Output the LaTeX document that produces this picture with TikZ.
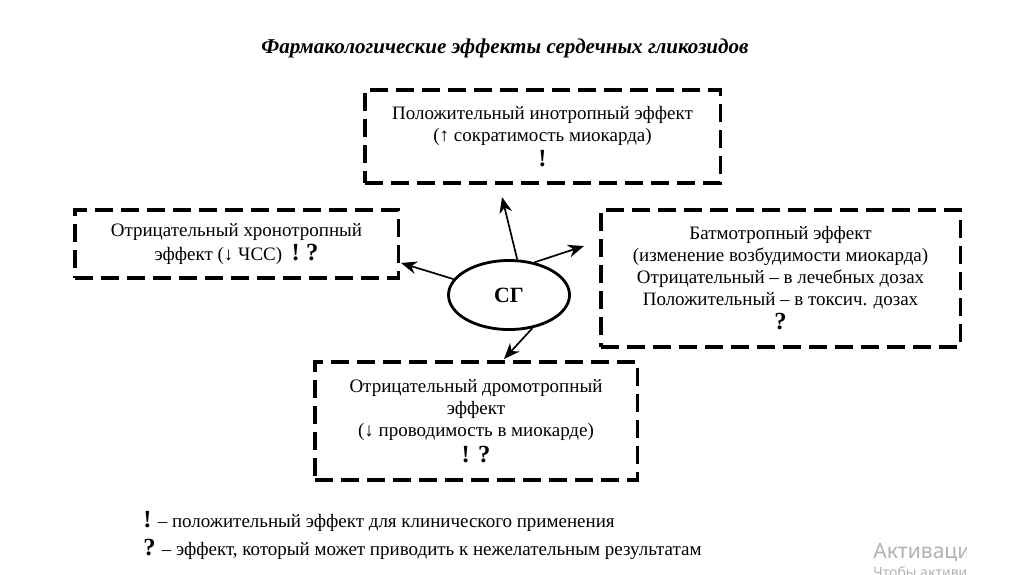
\documentclass[tikz,border=0pt]{standalone}
\usepackage{fontspec}
\setmainfont{Liberation Serif}
\newfontfamily\wmfont{Noto Sans}
\usetikzlibrary{arrows.meta,shapes.geometric}
\newcommand{\zn}[1]{{\fontsize{17.5}{17.5}\selectfont\bfseries #1}}
\tikzset{
  effbox/.style={draw,line width=2.2pt,dash pattern=on 12.5pt off 6pt,align=center,inner sep=0pt,font=\fontsize{13.5}{15.5}\selectfont},
  sgarrow/.style={line width=1.2pt,-{Stealth[length=4mm,width=3.2mm]}},
  legend/.style={anchor=west,inner sep=0pt,font=\fontsize{13.5}{15.5}\selectfont},
}
\begin{document}
\begin{tikzpicture}[x=0.025cm,y=-0.025cm]
\useasboundingbox (0,0) rectangle (1024,574);
\fill[white] (0,0) rectangle (1024,574);
% title
\node[font=\bfseries\itshape\fontsize{15}{17}\selectfont] (ttl) at (505,48) {Фармакологические эффекты сердечных гликозидов};
% the four effects
\node[effbox,minimum width=8.875cm,minimum height=2.325cm] (ino) at (542.5,136.5)
  {Положительный инотропный эффект\\(↑ сократимость миокарда)\\[2pt]\zn{!}};
\node[effbox,minimum width=8.075cm,minimum height=1.7cm] (chrono) at (236.5,244)
  {Отрицательный хронотропный\\[2pt]эффект (↓ ЧСС) \ \zn{! ?}};
\node[effbox,minimum width=8.975cm,minimum height=3.425cm] (bat) at (780.5,278.5)
  {Батмотропный эффект\\(изменение возбудимости миокарда)\\Отрицательный – в лечебных дозах\\Положительный – в токсич. дозах\\[2pt]\zn{?}};
\node[effbox,minimum width=8.05cm,minimum height=2.95cm] (dromo) at (476,421)
  {Отрицательный дромотропный\\эффект\\(↓ проводимость в миокарде)\\[3pt]\zn{! ?}};
% the drug in the middle
\node[ellipse,draw,line width=2pt,minimum width=3.025cm,minimum height=1.725cm,font=\bfseries\fontsize{15.5}{15.5}\selectfont] (sg) at (509,295) {СГ};
\coordinate (tipino) at (502,197);
\coordinate (tipbat) at (584,246);
\coordinate (tipchrono) at (401,263);
\coordinate (tipdromo) at (504,359);
\draw[sgarrow] (sg.77) -- (tipino);
\draw[sgarrow] (sg.52) -- (tipbat);
\draw[sgarrow] (sg.164) -- (tipchrono);
\draw[sgarrow] (sg.-55) -- (tipdromo);
% legend
\node[legend] (leg1) at (143,521) {\zn{!} – положительный эффект для клинического применения};
\node[legend] (leg2) at (143,549) {\zn{?} – эффект, который может приводить к нежелательным результатам};
% watermark
\begin{scope}
\clip (860,530) rectangle (966,574);
\node[anchor=west,inner sep=0pt,text=black!30,font=\wmfont\fontsize{15}{15}\selectfont] (wm1) at (873,552) {Активация Windows};
\node[anchor=west,inner sep=0pt,text=black!30,font=\wmfont\fontsize{10}{10}\selectfont] (wm2) at (873,574) {Чтобы активировать Windows};
\end{scope}
\end{tikzpicture}
\end{document}
